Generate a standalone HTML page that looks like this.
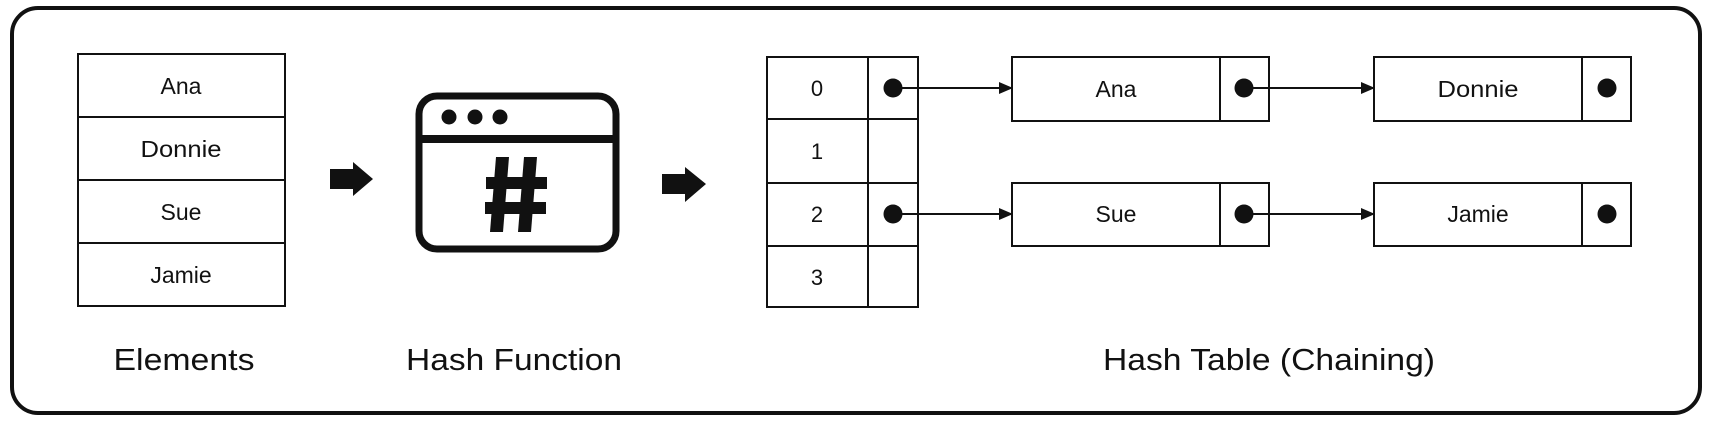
<!DOCTYPE html>
<html><head><meta charset="utf-8"><style>
html,body{margin:0;padding:0;background:#fff;}
svg{display:block;}
text{font-family:"Liberation Sans",sans-serif;fill:#111;}
</style></head><body>
<svg width="1713" height="421" viewBox="0 0 1713 421" xmlns="http://www.w3.org/2000/svg">
<defs>
<marker id="ah" markerWidth="14" markerHeight="12" refX="13" refY="6" orient="auto" markerUnits="userSpaceOnUse">
<path d="M0,0 L14,6 L0,12 Z" fill="#111"/>
</marker>
</defs>
<rect x="12" y="8" width="1688" height="405" rx="26" ry="26" fill="#fff" stroke="#111" stroke-width="4"/>

<g stroke="#111" stroke-width="2" fill="none">
<rect x="78" y="54" width="207" height="252"/>
<line x1="78" y1="117" x2="285" y2="117"/>
<line x1="78" y1="180" x2="285" y2="180"/>
<line x1="78" y1="243" x2="285" y2="243"/>
</g>
<g font-size="23" text-anchor="middle">
<text x="181" y="94">Ana</text>
<text x="181" y="157" textLength="81" lengthAdjust="spacingAndGlyphs">Donnie</text>
<text x="181" y="220">Sue</text>
<text x="181" y="283">Jamie</text>
</g>

<path d="M330,169 L353,169 L353,162 L373,179 L353,196 L353,189 L330,189 Z" fill="#111"/>
<path d="M662,174 L685,174 L685,167 L706,184 L685,202 L685,194 L662,194 Z" fill="#111"/>

<rect x="419" y="96" width="197" height="153" rx="18" ry="18" fill="#fff" stroke="#111" stroke-width="7"/>
<rect x="419" y="135" width="197" height="8" fill="#111"/>
<circle cx="449" cy="117" r="7.5" fill="#111"/>
<circle cx="475" cy="117" r="7.5" fill="#111"/>
<circle cx="500" cy="117" r="7.5" fill="#111"/>
<g fill="#111">
<polygon points="496,157 509,157 503,232 490,232"/>
<polygon points="524,157 537,157 531,232 518,232"/>
<rect x="486" y="177" width="61" height="12"/>
<rect x="485" y="202" width="61" height="12"/>
</g>

<g font-size="31" text-anchor="middle">
<text x="184" y="370" textLength="141" lengthAdjust="spacingAndGlyphs">Elements</text>
<text x="514" y="370" textLength="216" lengthAdjust="spacingAndGlyphs">Hash Function</text>
<text x="1269" y="370" textLength="332" lengthAdjust="spacingAndGlyphs">Hash Table (Chaining)</text>
</g>

<g stroke="#111" stroke-width="2" fill="none">
<rect x="767" y="57" width="151" height="250"/>
<line x1="868" y1="57" x2="868" y2="307"/>
<line x1="767" y1="119" x2="918" y2="119"/>
<line x1="767" y1="183" x2="918" y2="183"/>
<line x1="767" y1="246" x2="918" y2="246"/>
</g>
<g font-size="22" text-anchor="middle">
<text x="817" y="96">0</text>
<text x="817" y="159">1</text>
<text x="817" y="222">2</text>
<text x="817" y="285">3</text>
</g>

<g stroke="#111" stroke-width="2" fill="none">
<rect x="1012" y="57" width="257" height="64"/>
<line x1="1220" y1="57" x2="1220" y2="121"/>
<rect x="1374" y="57" width="257" height="64"/>
<line x1="1582" y1="57" x2="1582" y2="121"/>
<rect x="1012" y="183" width="257" height="63"/>
<line x1="1220" y1="183" x2="1220" y2="246"/>
<rect x="1374" y="183" width="257" height="63"/>
<line x1="1582" y1="183" x2="1582" y2="246"/>
</g>
<g font-size="23" text-anchor="middle">
<text x="1116" y="97">Ana</text>
<text x="1478" y="97" textLength="81" lengthAdjust="spacingAndGlyphs">Donnie</text>
<text x="1116" y="222">Sue</text>
<text x="1478" y="222">Jamie</text>
</g>

<g stroke="#111" stroke-width="2">
<line x1="893" y1="88" x2="1012" y2="88" marker-end="url(#ah)"/>
<line x1="1244" y1="88" x2="1374" y2="88" marker-end="url(#ah)"/>
<line x1="893" y1="214" x2="1012" y2="214" marker-end="url(#ah)"/>
<line x1="1244" y1="214" x2="1374" y2="214" marker-end="url(#ah)"/>
</g>
<g fill="#111">
<circle cx="893" cy="88" r="9.5"/>
<circle cx="1244" cy="88" r="9.5"/>
<circle cx="1607" cy="88" r="9.5"/>
<circle cx="893" cy="214" r="9.5"/>
<circle cx="1244" cy="214" r="9.5"/>
<circle cx="1607" cy="214" r="9.5"/>
</g>
</svg>
</body></html>
